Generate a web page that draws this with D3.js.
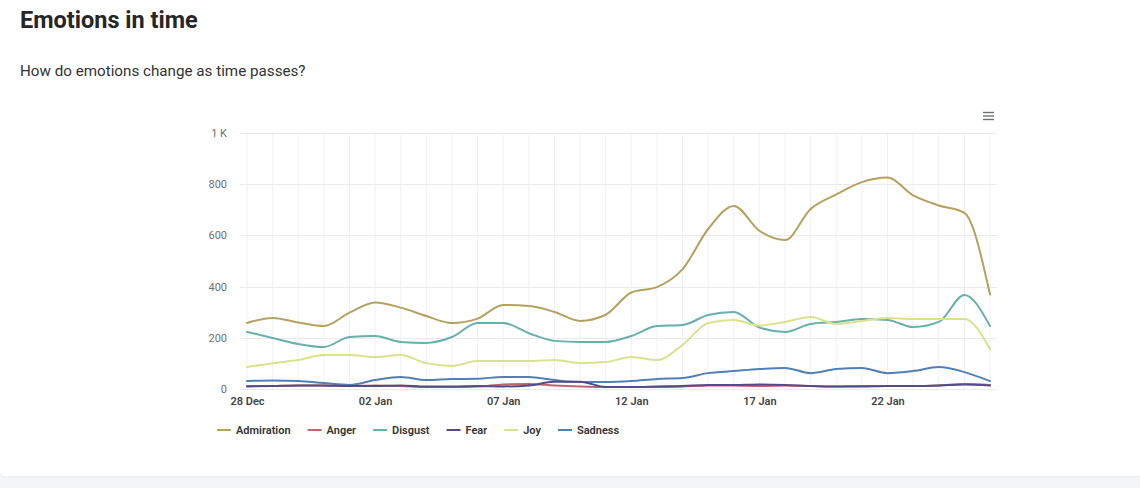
<!DOCTYPE html>
<html>
<head>
<meta charset="utf-8">
<script src="https://cdn.jsdelivr.net/npm/d3@7/dist/d3.min.js"></script>
<style>
  html, body { margin: 0; padding: 0; background: #f4f5f7; }
  body { width: 1140px; height: 488px; overflow: hidden; font-family: Roboto, "Noto Sans", sans-serif; }
  #card { position: absolute; left: 0; top: 0; width: 1140px; height: 476px; background: #fff; border-bottom-left-radius: 4px; box-shadow: 0 1px 2px rgba(0,0,0,0.04); }
  svg { position: absolute; left: 0; top: 0; }
</style>
</head>
<body>
<div id="card"></div>
<svg id="chart" width="1140" height="488"></svg>
<script>
// ---- data ----
const startDate = "2023-12-28";
const dayCount = 30;
const seriesNames = ["Admiration", "Anger", "Disgust", "Fear", "Joy", "Sadness"];
const seriesColors = ["#b5a261", "#c0646f", "#68b0a9", "#534c88", "#d9e38f", "#5380b4"];
const admiration = [258, 277, 260, 246, 298, 338, 318, 285, 258, 275, 328, 324, 301, 266, 290, 377, 398, 468, 625, 715, 618, 582, 703, 760, 808, 826, 756, 717, 688, 369];
const anger      = [12, 12, 14, 14, 12, 14, 12, 8, 8, 10, 18, 20, 14, 10, 8, 8, 8, 10, 14, 14, 12, 14, 12, 10, 12, 12, 12, 14, 20, 16];
const disgust    = [223, 199, 176, 164, 203, 207, 184, 180, 203, 258, 258, 218, 188, 184, 184, 207, 246, 250, 289, 301, 240, 223, 254, 262, 273, 270, 242, 262, 367, 246];
const fear       = [10, 12, 14, 14, 12, 12, 14, 10, 10, 12, 10, 14, 28, 28, 8, 8, 10, 12, 16, 16, 18, 16, 12, 10, 10, 12, 12, 14, 18, 14];
const joy        = [86, 101, 113, 133, 133, 125, 133, 101, 90, 109, 109, 109, 113, 101, 105, 125, 113, 172, 258, 270, 248, 262, 281, 254, 266, 277, 273, 273, 273, 156];
const sadness    = [31, 33, 31, 23, 16, 35, 47, 35, 39, 40, 47, 47, 35, 27, 27, 31, 39, 43, 62, 70, 78, 82, 62, 78, 82, 62, 70, 86, 66, 31];
const yTicks = [0, 200, 400, 600, 800, 1000];
const yTickLabels = ["0", "200", "400", "600", "800", "1 K"];
const xTickLabels = ["28 Dec", "02 Jan", "07 Jan", "12 Jan", "17 Jan", "22 Jan"];
const xTickDates = ["2023-12-28", "2024-01-02", "2024-01-07", "2024-01-12", "2024-01-17", "2024-01-22"];
const titleText = "Emotions in time";
const subtitleText = "How do emotions change as time passes?";

const seriesValues = [admiration, anger, disgust, fear, joy, sadness];
const parse = d3.utcParse("%Y-%m-%d");
const d0 = parse(startDate);
const dates = d3.range(dayCount).map(i => d3.utcDay.offset(d0, i));

// ---- layout ----
const svg = d3.select("#chart");
const plotLeft = 240, plotRight = 997, plotTop = 133, plotBottom = 389;
const x = d3.scaleUtc().domain([dates[0], dates[dates.length - 1]]).range([247, 990]);
const y = d3.scaleLinear().domain([0, 1000]).range([plotBottom, plotTop]);

// title
svg.append("text").attr("x", 20).attr("y", 28)
  .attr("font-size", 23.5).attr("font-weight", 700).attr("fill", "#262626").text(titleText);
svg.append("text").attr("x", 20).attr("y", 76)
  .attr("font-size", 15.2).attr("fill", "#333").text(subtitleText);

// vertical grid (every day)
const g = svg.append("g");
g.append("g").selectAll("line").data(dates).join("line")
  .attr("x1", d => x(d)).attr("x2", d => x(d))
  .attr("y1", plotTop).attr("y2", plotBottom)
  .attr("stroke", "#f1f1f1").attr("stroke-width", 1);

// horizontal grid
g.append("g").selectAll("line").data(yTicks).join("line")
  .attr("x1", plotLeft).attr("x2", plotRight)
  .attr("y1", d => Math.round(y(d)) + 0.5).attr("y2", d => Math.round(y(d)) + 0.5)
  .attr("stroke", "#ebebeb").attr("stroke-width", 1);

// y axis labels
const yAxis = d3.axisLeft(y).tickValues(yTicks).tickSize(0).tickPadding(0)
  .tickFormat((d, i) => yTickLabels[i]);
const ya = svg.append("g").attr("transform", "translate(227,0)").call(yAxis);
ya.select(".domain").remove();
ya.selectAll("text").attr("font-family", "Roboto, sans-serif").attr("font-size", 11).attr("fill", "#707070");

// x axis labels
const xAxis = d3.axisBottom(x).tickValues(xTickDates.map(parse)).tickSize(0).tickPadding(0)
  .tickFormat((d, i) => xTickLabels[i]);
const xa = svg.append("g").attr("transform", "translate(0,397)").call(xAxis);
xa.select(".domain").remove();
xa.selectAll("text").attr("font-family", "Roboto, sans-serif").attr("font-size", 11)
  .attr("font-weight", 600).attr("fill", "#444").attr("dy", "0.71em");

// lines
const line = d3.line().x((d, i) => x(dates[i])).y(d => y(d)).curve(d3.curveMonotoneX);
const drawOrder = [0, 2, 4, 5, 1, 3];
drawOrder.forEach(k => {
  svg.append("path").attr("d", line(seriesValues[k]))
    .attr("fill", "none").attr("stroke", seriesColors[k]).attr("stroke-width", 2)
    .attr("stroke-linejoin", "round").attr("stroke-linecap", "round");
});

// legend
const leg = svg.append("g").attr("transform", "translate(217,430)");
let lx = 0;
seriesNames.forEach((name, k) => {
  leg.append("line").attr("x1", lx).attr("x2", lx + 14).attr("y1", 0).attr("y2", 0)
    .attr("stroke", seriesColors[k]).attr("stroke-width", 2);
  const t = leg.append("text").attr("x", lx + 19).attr("y", 4)
    .attr("font-size", 11).attr("font-weight", 600).attr("fill", "#333").text(name);
  const w = t.node().getComputedTextLength();
  lx += 19 + w + 17;
});

// menu icon
const menu = svg.append("g").attr("transform", "translate(983,112)");
[0, 3.5, 7].forEach(dy => {
  menu.append("line").attr("x1", 0).attr("x2", 11).attr("y1", dy + 0.5).attr("y2", dy + 0.5)
    .attr("stroke", "#6e7079").attr("stroke-width", 1.4);
});
</script>
</body>
</html>
